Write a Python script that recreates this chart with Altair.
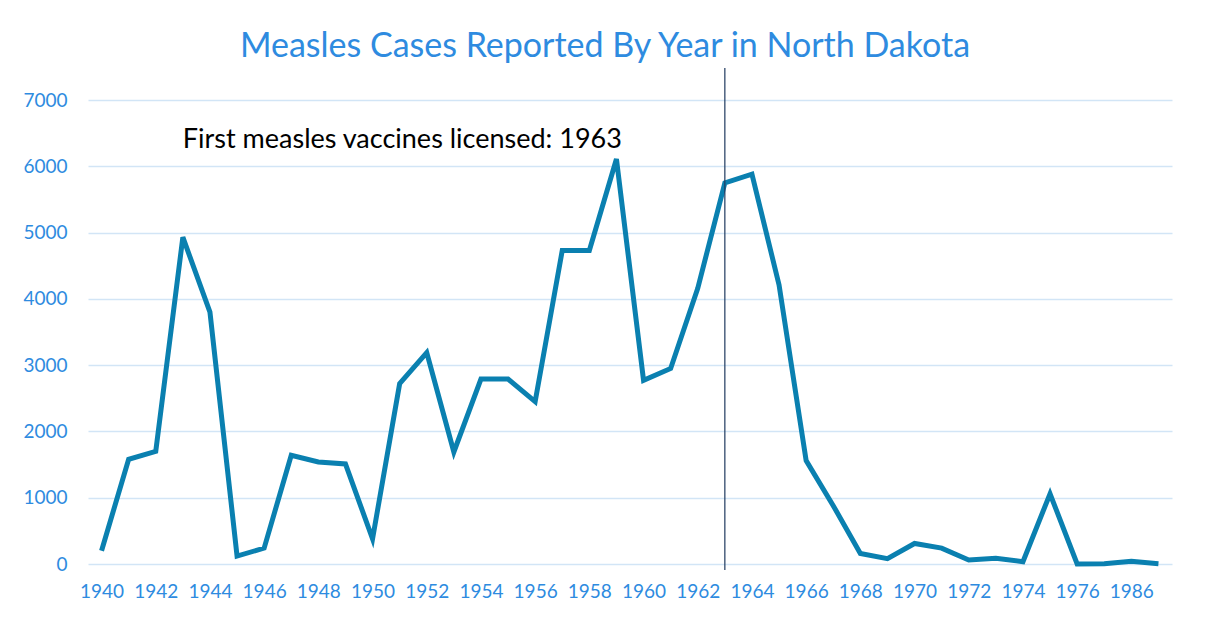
import altair as alt
import pandas as pd

years = [str(y) for y in range(1940, 1978)] + ["1986", "1987"]
cases = [200, 1580, 1700, 4930, 3800, 120, 240, 1640, 1540, 1510,
         380, 2720, 3190, 1690, 2790, 2790, 2450, 4730, 4730, 6110,
         2770, 2950, 4160, 5750, 5880, 4210, 1560, 880, 160, 80,
         310, 240, 60, 85, 35, 1060, 0, 5, 40, 5]
label_years = years[0::2]
y_ticks = [0, 1000, 2000, 3000, 4000, 5000, 6000, 7000]

vaccine_year = ["1963"]
note_year = ["1943"]
note_value = [6276]
note_text = ["First measles vaccines licensed: 1963"]

title_text = "Measles Cases Reported By Year in North Dakota"

blue_text = "#2E8BE0"
line_color = "#0A80B0"
grid_color = "#D2E5F6"
font = "Lato"

df = pd.DataFrame({"year": years, "cases": cases})
note_df = pd.DataFrame({"year": note_year, "cases": note_value, "label": note_text})
vline_df = pd.DataFrame({"year": vaccine_year})

x_scale = alt.Scale(domain=years, type="point", padding=0.5)
y_scale = alt.Scale(domain=[0, 7000], nice=False, zero=True)

x_axis = alt.Axis(values=label_years, labelAngle=0, labelColor=blue_text,
                  labelFontSize=19, labelFont=font, grid=False, domain=False,
                  ticks=False, labelPadding=18, title=None, labelOverlap=False)
y_axis = alt.Axis(values=y_ticks, format="d", labelColor=blue_text,
                  labelFontSize=19, labelFont=font, domain=False, ticks=False,
                  labelPadding=21, gridColor=grid_color, gridWidth=1.5,
                  title=None)

line = alt.Chart(df).mark_line(color=line_color, strokeWidth=5).encode(
    x=alt.X("year:O", scale=x_scale, axis=x_axis),
    y=alt.Y("cases:Q", scale=y_scale, axis=y_axis),
)

vline = alt.Chart(vline_df).mark_rule(color="#1F3A5F", strokeWidth=1.2).encode(
    x=alt.X("year:O", scale=x_scale),
    y=alt.value(-32),
    y2=alt.value(470),
)

note = alt.Chart(note_df).mark_text(
    align="left", baseline="alphabetic", fontSize=27, font=font, color="#000000"
).encode(
    x=alt.X("year:O", scale=x_scale),
    y=alt.Y("cases:Q", scale=y_scale),
    text="label:N",
)

chart = alt.layer(line, vline, note).properties(
    width=1084,
    height=464,
    background="white",
    title=alt.TitleParams(title_text, fontSize=34, font=font, fontWeight="normal",
                          color=blue_text, anchor="middle", dx=-25, offset=3),
    autosize=alt.AutoSizeParams(type="none"),
    padding={"left": 80, "top": 92, "right": 31, "bottom": 45},
).configure_view(stroke=None, strokeWidth=0)

chart.save("out.html", embed_options={"renderer": "svg", "actions": False})
